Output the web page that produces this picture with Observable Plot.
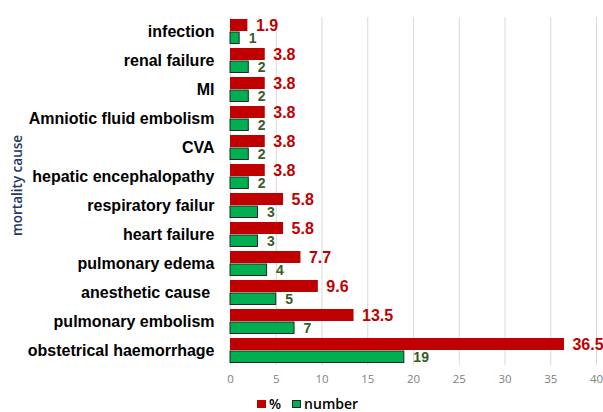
<!DOCTYPE html>
<html>
<head>
<meta charset="utf-8">
<script src="https://cdn.jsdelivr.net/npm/d3@7"></script>
<script src="https://cdn.jsdelivr.net/npm/@observablehq/plot@0.6"></script>
<style>
  body { margin: 0; background: #fff; font-family: "Liberation Sans", Arial, sans-serif; overflow: hidden; }
  #legend { display: flex; align-items: center; height: 16px; line-height: 16px; margin-left: 257px; margin-top: 4px; font-family: "Open Sans", sans-serif; font-weight: 600; font-size: 14px; color: #000; }
  #legend .sw { display: inline-block; width: 9px; height: 8px; margin-right: 3px; box-sizing: border-box; }
  #legend .item { display: flex; align-items: center; margin-right: 11px; }
</style>
</head>
<body>
<div id="chart"></div>
<div id="legend"></div>
<script>
const categories = ["infection", "renal failure", "MI", "Amniotic fluid embolism", "CVA", "hepatic encephalopathy", "respiratory failur", "heart failure", "pulmonary edema", "anesthetic cause\u00a0", "pulmonary embolism", "obstetrical haemorrhage"];
const percentValues = [1.9, 3.8, 3.8, 3.8, 3.8, 3.8, 5.8, 5.8, 7.7, 9.6, 13.5, 36.5];
const numberValues = [1, 2, 2, 2, 2, 2, 3, 3, 4, 5, 7, 19];
const xTicks = [0, 5, 10, 15, 20, 25, 30, 35, 40];
const seriesNames = ["%", "number"];
const yTitle = "mortality cause";

const rows = categories.map((c, i) => ({cause: c, pct: percentValues[i], num: numberValues[i]}));

const RED = "#c00000", GREEN = "#00b050", GREEN_TEXT = "#3a5a28";

const chart = Plot.plot({
  width: 603,
  height: 392,
  marginTop: 17,
  marginBottom: 27,
  marginLeft: 230,
  marginRight: 7,
  style: {fontFamily: "'Liberation Sans', Arial, sans-serif", background: "#fff"},
  x: {domain: [0, 40]},
  y: {domain: categories, padding: 0},
  marks: [
    Plot.gridX(xTicks, {stroke: "#d9d9d9", strokeOpacity: 1, strokeWidth: 1}),
    Plot.axisX({ticks: xTicks, tickSize: 0, tickPadding: 9, fontSize: 11.5, color: "#808080", label: null, fontFamily: "'Open Sans', sans-serif"}),
    Plot.axisY({tickSize: 0, tickPadding: 16, fontSize: 16, fontWeight: "bold", color: "#000", label: null}),
    Plot.barX(rows, {y: "cause", x: "pct", fill: RED, insetTop: 2, insetBottom: 15}),
    Plot.barX(rows, {y: "cause", x: "num", fill: GREEN, stroke: "#262626", strokeWidth: 1, insetTop: 15, insetBottom: 2.5}),
    Plot.text(rows, {y: "cause", x: "pct", text: d => String(d.pct), dx: 8, dy: -6.5, textAnchor: "start", fill: RED, fontSize: 16, fontWeight: "bold"}),
    Plot.text(rows, {y: "cause", x: "num", text: d => String(d.num), dx: 9, dy: 7, textAnchor: "start", fill: GREEN_TEXT, fontSize: 14, fontWeight: "bold"}),
    Plot.text([yTitle], {frameAnchor: "left", rotate: -90, dx: -213, dy: -6, textAnchor: "middle", fill: "#1f3864", fontSize: 13.5, fontWeight: 600, fontFamily: "'Open Sans', sans-serif", text: d => d})
  ]
});
document.getElementById("chart").appendChild(chart);

const legend = document.getElementById("legend");
[[seriesNames[0], RED, "none"], [seriesNames[1], GREEN, "1px solid #262626"]].forEach(([name, col, border]) => {
  const item = document.createElement("span");
  item.className = "item";
  const sw = document.createElement("span");
  sw.className = "sw";
  sw.style.background = col;
  sw.style.border = border;
  item.appendChild(sw);
  const t = document.createElement("span");
  t.textContent = name;
  item.appendChild(t);
  legend.appendChild(item);
});
</script>
</body>
</html>
